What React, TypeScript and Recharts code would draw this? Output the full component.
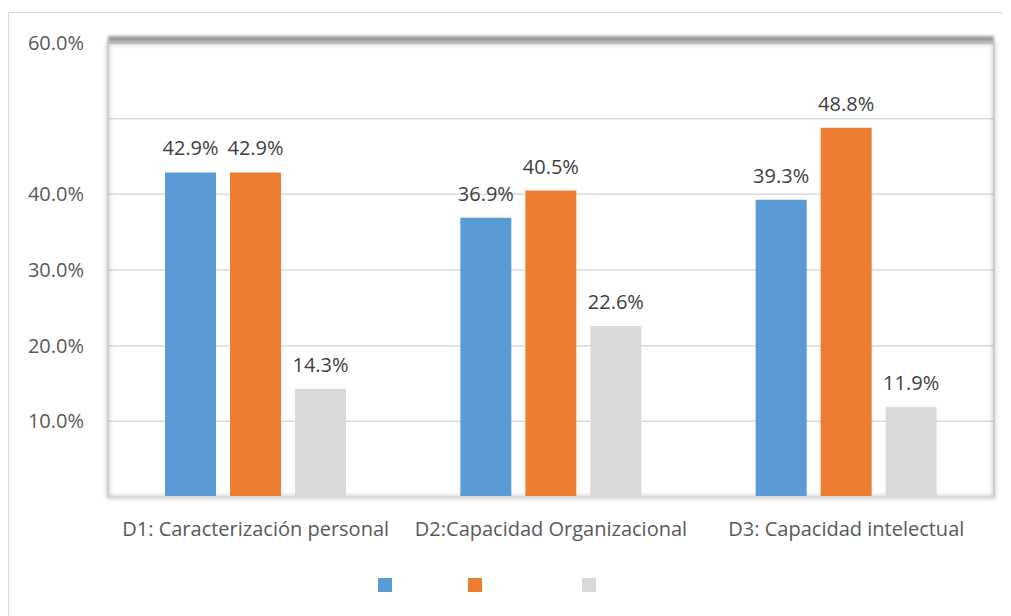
import { BarChart, Bar, XAxis, YAxis, CartesianGrid, Legend, LabelList, ReferenceArea, ReferenceLine } from 'recharts'

const categories = ['D1: Caracterización personal', 'D2:Capacidad Organizacional', 'D3: Capacidad intelectual']
const serie1 = [42.9, 36.9, 39.3]
const serie2 = [42.9, 40.5, 48.8]
const serie3 = [14.3, 22.6, 11.9]
const yTicks = [0, 10, 20, 30, 40, 50, 60]
const hiddenTicks = [0, 50]

const data = categories.map((name, i) => ({ name, s1: serie1[i], s2: serie2[i], s3: serie3[i] }))

const FONT = '"Open Sans", sans-serif'
const FONT_SIZE = 20
const legendWidths = [90, 114, 14]

function SquareLegend({ payload }: { payload?: any[] }) {
  return (
    <div style={{ display: 'flex', paddingLeft: 369, paddingTop: 21, height: 50, boxSizing: 'border-box' }}>
      {(payload ?? []).map((p, i) => (
        <div key={i} style={{ width: legendWidths[i] }}>
          <div style={{ width: 14, height: 14, background: p.color }} />
        </div>
      ))}
    </div>
  )
}

export default function App() {
  const fmt = (v: number) => `${v.toFixed(1)}%`
  return (
    <div style={{ marginTop: 4, width: 1002, height: 604, borderLeft: '1px solid #d9d9d9', borderTop: '1px solid #d9d9d9', fontFamily: FONT }}>
      <style>{`
        .plot-frame path { filter: drop-shadow(0 0 2px rgba(0,0,0,0.45)); }
        .plot-top line { transform: translateY(-4px); filter: blur(1.5px); }
      `}</style>
      <BarChart
        width={1002}
        height={600}
        data={data}
        margin={{ top: 30, right: 17, left: 0, bottom: 6 }}
        barSize={51}
        barGap={14}
      >
        <ReferenceArea className="plot-frame" y1={0} y2={60} fill="none" stroke="#c8c8c8" strokeWidth={1.5} />
        <ReferenceLine className="plot-top" y={60} stroke="#9a9a9a" strokeWidth={6} />
        <CartesianGrid vertical={false} stroke="#d9d9d9" strokeWidth={1.5} />
        <XAxis
          dataKey="name"
          axisLine={{ stroke: '#d9d9d9', strokeWidth: 2 }}
          tickLine={false}
          tickSize={0}
          tickMargin={25}
          height={60}
          interval={0}
          tick={{ fill: '#595959', fontSize: FONT_SIZE, fontFamily: FONT }}
        />
        <YAxis
          domain={[0, 60]}
          ticks={yTicks}
          width={99}
          axisLine={false}
          tickLine={false}
          tickSize={0}
          tickMargin={24}
          tickFormatter={(v: number) => (hiddenTicks.includes(v) ? '' : fmt(v))}
          tick={{ fill: '#595959', fontSize: FONT_SIZE, fontFamily: FONT }}
        />
        <Legend verticalAlign="bottom" content={(props: any) => <SquareLegend payload={props.payload} />} />
        <Bar dataKey="s1" name=" " fill="#5B9BD5" isAnimationActive={false}>
          <LabelList dataKey="s1" position="top" offset={17} formatter={(v: any) => fmt(Number(v))} fill="#404040" fontSize={FONT_SIZE} fontFamily={FONT} />
        </Bar>
        <Bar dataKey="s2" name="  " fill="#ED7D31" isAnimationActive={false}>
          <LabelList dataKey="s2" position="top" offset={17} formatter={(v: any) => fmt(Number(v))} fill="#404040" fontSize={FONT_SIZE} fontFamily={FONT} />
        </Bar>
        <Bar dataKey="s3" name="   " fill="#D9D9D9" isAnimationActive={false}>
          <LabelList dataKey="s3" position="top" offset={17} formatter={(v: any) => fmt(Number(v))} fill="#404040" fontSize={FONT_SIZE} fontFamily={FONT} />
        </Bar>
      </BarChart>
    </div>
  )
}
